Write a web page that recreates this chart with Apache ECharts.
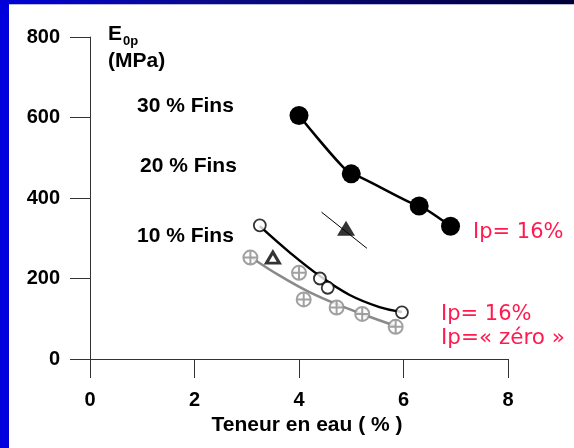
<!DOCTYPE html>
<html>
<head>
<meta charset="utf-8">
<script src="https://cdn.jsdelivr.net/npm/echarts@6/dist/echarts.min.js"></script>
<style>
  html, body { margin: 0; padding: 0; background: #ffffff; }
  #chart { width: 574px; height: 448px; }
</style>
</head>
<body>
<div id="chart"></div>
<script>
// Axis ticks
const xTicks = [0, 2, 4, 6, 8];
const yTicks = [0, 200, 400, 600, 800];

// 30 % fines, Ip = 16 % (filled circles, curve through points)
const fines30Water = [4.0, 5.0, 6.3, 6.9];
const fines30Modulus = [605, 460, 380, 330];

// 20 % fines (filled triangle) and its short trend segment
const fines20Water = [4.9];
const fines20Modulus = [325];
const fines20TrendWater = [4.43, 5.30];
const fines20TrendModulus = [365, 275];

// 10 % fines, Ip = 16 % (open circles) and fitted curve
const fines10Water = [3.25, 4.4, 4.55, 5.97];
const fines10Modulus = [332, 200, 177, 116];
const fines10CurveWater = [3.25, 3.82, 4.4, 4.97, 5.54, 5.97];
const fines10CurveModulus = [330, 265, 206, 159, 129, 117];

// 10 % fines, open triangle
const fines10TriWater = [3.5];
const fines10TriModulus = [252];

// Ip "zéro" (crossed circles) and fitted curve
const ipZeroWater = [3.07, 4.0, 4.09, 4.72, 5.21, 5.85];
const ipZeroModulus = [252, 214, 148, 128, 112, 80];
const ipZeroCurveWater = [3.08, 3.63, 4.2, 4.78, 5.35, 5.85];
const ipZeroCurveModulus = [253, 207, 166, 133, 105, 82];

const pairs = (xs, ys) => xs.map((x, i) => [x, ys[i]]);

const FONT = '"Liberation Sans", Arial, sans-serif';
const RED = '#ff1a4f';
const RED_FONT = '21px "DejaVu Sans", sans-serif';
const crossedCircle = 'path://M-10,0A10,10,0,1,1,10,0A10,10,0,1,1,-10,0ZM-10,0L10,0M0,-10L0,10';

const chart = echarts.init(document.getElementById('chart'));

chart.setOption({
  backgroundColor: '#ffffff',
  animation: false,
  grid: { left: 90, right: 66, top: 37, bottom: 89 },
  xAxis: {
    type: 'value',
    min: xTicks[0],
    max: xTicks[xTicks.length - 1],
    interval: 2,
    name: 'Teneur en eau ( % )',
    nameLocation: 'middle',
    nameGap: 54,
    nameTextStyle: { fontFamily: FONT, fontWeight: 'bold', fontSize: 21, color: '#000', padding: [0, 0, 0, 16] },
    axisLine: { lineStyle: { color: '#333', width: 1 } },
    axisTick: { length: 19, lineStyle: { color: '#333' } },
    axisLabel: { margin: 31, fontFamily: FONT, fontWeight: 'bold', fontSize: 20, color: '#000' },
    splitLine: { show: false }
  },
  yAxis: {
    type: 'value',
    min: yTicks[0],
    max: yTicks[yTicks.length - 1],
    interval: 200,
    axisLine: { show: true, lineStyle: { color: '#333', width: 1 } },
    axisTick: { show: true, length: 20, lineStyle: { color: '#333' } },
    axisLabel: { margin: 30, fontFamily: FONT, fontWeight: 'bold', fontSize: 20, color: '#000' },
    splitLine: { show: false }
  },
  graphic: [
    // slide frame
    { type: 'rect', left: 0, top: 0, z: 100, shape: { width: 9, height: 448 }, style: { fill: '#0000dc' } },
    {
      type: 'rect', left: 0, top: 0, z: 100, shape: { width: 574, height: 4 },
      style: {
        fill: new echarts.graphic.LinearGradient(0, 0, 1, 0, [
          { offset: 0, color: '#0000d8' },
          { offset: 0.35, color: '#0a0a8c' },
          { offset: 1, color: '#000038' }
        ])
      }
    },
    { type: 'rect', left: 9, top: 4, z: 100, shape: { width: 565, height: 1 }, style: { fill: '#b8b8d8' } },
    // axis title
    { type: 'text', left: 108, top: 24, z: 100, style: { text: 'E', font: 'bold 21px ' + FONT, fill: '#000' } },
    { type: 'text', left: 123, top: 35, z: 100, style: { text: '0p', font: 'bold 13px ' + FONT, fill: '#000' } },
    { type: 'text', left: 108, top: 51, z: 100, style: { text: '(MPa)', font: 'bold 21px ' + FONT, fill: '#000' } },
    // group labels
    { type: 'text', left: 137, top: 96, z: 100, style: { text: '30 % Fins', font: 'bold 21px ' + FONT, fill: '#000' } },
    { type: 'text', left: 140, top: 156, z: 100, style: { text: '20 % Fins', font: 'bold 21px ' + FONT, fill: '#000' } },
    { type: 'text', left: 137, top: 226, z: 100, style: { text: '10 % Fins', font: 'bold 21px ' + FONT, fill: '#000' } },
    // plasticity index labels
    { type: 'text', left: 473, top: 222, z: 100, style: { text: 'Ip= 16%', font: RED_FONT, fill: RED } },
    { type: 'text', left: 441, top: 304, z: 100, style: { text: 'Ip= 16%', font: RED_FONT, fill: RED } },
    { type: 'text', left: 441, top: 327, z: 100, style: { text: 'Ip=« zéro »', font: '21.5px "DejaVu Sans", sans-serif', fill: RED } }
  ],
  series: [
    {
      name: '30 % Fins',
      type: 'line',
      data: pairs(fines30Water, fines30Modulus),
      smooth: 0.1,
      smoothMonotone: 'x',
      lineStyle: { color: '#000', width: 2.5 },
      symbol: 'circle',
      symbolSize: 19,
      itemStyle: { color: '#000' },
      z: 5
    },
    {
      name: '10 % Fins courbe',
      type: 'line',
      data: pairs(fines10CurveWater, fines10CurveModulus),
      smooth: 0.4,
      showSymbol: false,
      lineStyle: { color: '#000', width: 2.5 },
      z: 3
    },
    {
      name: '10 % Fins',
      type: 'scatter',
      data: pairs(fines10Water, fines10Modulus),
      symbol: 'circle',
      symbolSize: 12,
      itemStyle: { color: '#fff', borderColor: '#000', borderWidth: 1.8 },
      z: 6
    },
    {
      name: 'Ip zéro courbe',
      type: 'line',
      data: pairs(ipZeroCurveWater, ipZeroCurveModulus),
      smooth: 0.4,
      showSymbol: false,
      lineStyle: { color: '#8a8a8a', width: 2.5 },
      z: 3
    },
    {
      name: 'Ip zéro',
      type: 'scatter',
      data: pairs(ipZeroWater, ipZeroModulus),
      symbol: crossedCircle,
      symbolSize: 14,
      itemStyle: { color: '#fff', borderColor: '#8a8a8a', borderWidth: 2 },
      z: 6
    },
    {
      name: '20 % Fins tendance',
      type: 'line',
      data: pairs(fines20TrendWater, fines20TrendModulus),
      showSymbol: false,
      lineStyle: { color: '#000', width: 1 },
      z: 3
    },
    {
      name: '20 % Fins',
      type: 'scatter',
      data: pairs(fines20Water, fines20Modulus),
      symbol: 'triangle',
      symbolSize: [18, 15],
      itemStyle: { color: '#000' },
      z: 6
    },
    {
      name: '10 % Fins triangle',
      type: 'scatter',
      data: pairs(fines10TriWater, fines10TriModulus),
      symbol: 'triangle',
      symbolSize: [13, 11],
      itemStyle: { color: '#fff', borderColor: '#000', borderWidth: 3 },
      z: 6
    }
  ]
});
</script>
</body>
</html>
